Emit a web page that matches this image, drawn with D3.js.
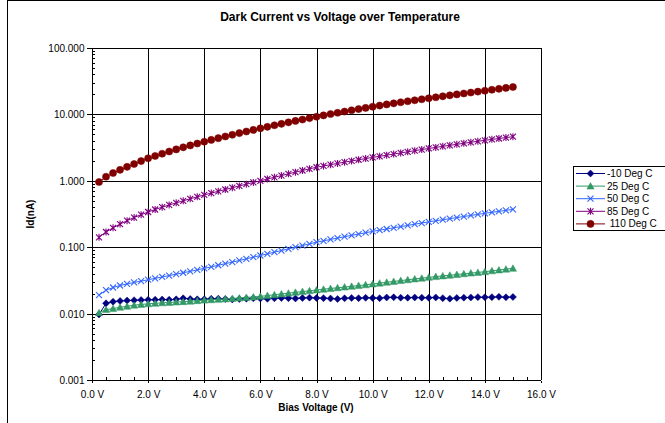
<!DOCTYPE html>
<html><head><meta charset="utf-8">
<script src="https://cdn.jsdelivr.net/npm/d3@7"></script>
<style>
body{margin:0;background:#fff}
svg{display:block}
text{font-family:Arial,"Liberation Sans",sans-serif;fill:#000}
</style>
</head><body>
<svg id="c" width="665" height="423"></svg>
<script>
const voltage = [0.25,0.5,0.75,1,1.25,1.5,1.75,2,2.25,2.5,2.75,3,3.25,3.5,3.75,4,4.25,4.5,4.75,5,5.25,5.5,5.75,6,6.25,6.5,6.75,7,7.25,7.5,7.75,8,8.25,8.5,8.75,9,9.25,9.5,9.75,10,10.25,10.5,10.75,11,11.25,11.5,11.75,12,12.25,12.5,12.75,13,13.25,13.5,13.75,14,14.25,14.5,14.75,15];
const seriesNames = ["-10 Deg C","25 Deg C","50 Deg C","85 Deg C"," 110 Deg C"];
const idM10 = [0.0097,0.0143,0.0151,0.0155,0.0157,0.0159,0.0160,0.0161,0.0162,0.0163,0.0162,0.0164,0.0170,0.0166,0.0164,0.0165,0.0167,0.0168,0.0166,0.0163,0.0166,0.0168,0.0170,0.0169,0.0167,0.0170,0.0172,0.0171,0.0169,0.0172,0.0174,0.0172,0.0171,0.0169,0.0166,0.0170,0.0172,0.0171,0.0173,0.0172,0.0171,0.0175,0.0176,0.0174,0.0173,0.0175,0.0174,0.0173,0.0175,0.0171,0.0168,0.0172,0.0174,0.0175,0.0177,0.0176,0.0177,0.0179,0.0176,0.0178];
const id25 = [0.01033,0.01148,0.01189,0.01245,0.01288,0.01340,0.01374,0.01406,0.01429,0.01452,0.01472,0.01493,0.01514,0.01535,0.01567,0.01596,0.01618,0.01641,0.01663,0.01690,0.01718,0.01750,0.01782,0.01820,0.01871,0.01923,0.01977,0.02032,0.02089,0.02148,0.02208,0.02265,0.02328,0.02388,0.02449,0.02512,0.02576,0.02642,0.02716,0.02793,0.02877,0.02965,0.03048,0.03141,0.03228,0.03327,0.03420,0.03516,0.03606,0.03698,0.03784,0.03882,0.03972,0.04074,0.04169,0.04276,0.04406,0.04539,0.04667,0.04808];
const id50 = [0.01905,0.02249,0.02472,0.02649,0.02799,0.02944,0.03083,0.03236,0.03396,0.03565,0.03741,0.03926,0.04121,0.04335,0.04560,0.04797,0.05058,0.05346,0.05649,0.05970,0.06310,0.06683,0.07079,0.07499,0.07943,0.08414,0.08913,0.09441,0.1000,0.1059,0.1122,0.1189,0.1247,0.1309,0.1374,0.1439,0.1507,0.1578,0.1652,0.1730,0.1803,0.1879,0.1959,0.2042,0.2128,0.2218,0.2312,0.2410,0.2500,0.2594,0.2692,0.2793,0.2897,0.3006,0.3119,0.3236,0.3350,0.3467,0.3589,0.3715];
const id85 = [0.1409,0.1694,0.1959,0.2228,0.2512,0.2799,0.3090,0.3388,0.3698,0.4009,0.4325,0.4656,0.5000,0.5358,0.5728,0.6124,0.6531,0.6950,0.7396,0.7870,0.8375,0.8892,0.9441,1.000,1.064,1.130,1.199,1.274,1.349,1.429,1.514,1.600,1.675,1.750,1.828,1.910,1.991,2.075,2.163,2.249,2.339,2.432,2.529,2.630,2.735,2.844,2.958,3.069,3.184,3.304,3.420,3.540,3.673,3.802,3.936,4.074,4.207,4.335,4.477,4.613];
const id110 = [0.959,1.153,1.309,1.462,1.622,1.791,1.982,2.183,2.366,2.559,2.761,2.972,3.192,3.412,3.639,3.881,4.130,4.385,4.656,4.932,5.224,5.521,5.834,6.166,6.501,6.855,7.211,7.586,7.980,8.375,8.790,9.226,9.661,10.12,10.57,11.04,11.53,12.02,12.53,13.06,13.58,14.13,14.66,15.21,15.78,16.33,16.90,17.50,18.11,18.71,19.36,20.00,20.65,21.33,22.03,22.75,23.50,24.27,25.06,25.88];
const xTickValues = [0,2,4,6,8,10,12,14,16];
const yTickValues = [0.001,0.01,0.1,1,10,100];

const colors = ["#000080","#339966","#3366FF","#800080","#800000"];
const shapes = ["diamond","triangle","cross","asterisk","circle"];
const allSeries = [idM10,id25,id50,id85,id110];

const svg = d3.select("#c");
const L = 92, R = 541, T = 48, B = 380;
const x = d3.scaleLinear().domain([0,16]).range([L,R]);
const y = d3.scaleLog().domain([0.001,100]).range([B,T]);
const FONT = "Arial, 'Liberation Sans', sans-serif";

// outer chart border
svg.append("rect").attr("x",7.5).attr("y",0.5).attr("width",700).attr("height",500)
  .attr("fill","none").attr("stroke","#000").attr("stroke-width",1);

// title
svg.append("text").attr("x",340).attr("y",21).attr("text-anchor","middle")
  .attr("font-size","12px").attr("font-weight","bold")
  .text("Dark Current vs Voltage over Temperature");

// grid
const g = svg.append("g").attr("shape-rendering","crispEdges");
g.selectAll(".vg").data(xTickValues.slice(1)).join("line")
  .attr("x1",d=>Math.round(x(d))+0.5).attr("x2",d=>Math.round(x(d))+0.5)
  .attr("y1",T).attr("y2",B).attr("stroke","#000");
g.selectAll(".hg").data(yTickValues.slice(1)).join("line")
  .attr("x1",L).attr("x2",R+0.5)
  .attr("y1",d=>Math.round(y(d))+0.5).attr("y2",d=>Math.round(y(d))+0.5).attr("stroke","#000");

// minor y ticks (inside)
const minorY = [];
yTickValues.slice(0,-1).forEach(d=>{ for(let k=2;k<10;k++) minorY.push(d*k); });
g.selectAll(".my").data(minorY).join("line")
  .attr("x1",L).attr("x2",L+3)
  .attr("y1",d=>Math.round(y(d))+0.5).attr("y2",d=>Math.round(y(d))+0.5).attr("stroke","#000");
// minor x ticks (inside)
const minorX = d3.range(0.5,16,0.5).filter(d=>d%2!==0);
g.selectAll(".mx").data(minorX).join("line")
  .attr("x1",d=>Math.round(x(d))+0.5).attr("x2",d=>Math.round(x(d))+0.5)
  .attr("y1",B).attr("y2",B-3).attr("stroke","#000");

// axes
const yAxis = d3.axisLeft(y).tickValues(yTickValues).tickFormat(d3.format(".3f")).tickSize(6).tickPadding(2);
const ya = svg.append("g").attr("transform",`translate(${L+0.5},0)`).call(yAxis);
const xAxis = d3.axisBottom(x).tickValues(xTickValues).tickFormat(d=>d3.format(".1f")(d)+" V").tickSize(2).tickPadding(8);
const xa = svg.append("g").attr("transform",`translate(0,${B+0.5})`).call(xAxis);
[ya,xa].forEach(a=>{
  a.attr("shape-rendering","crispEdges");
  a.select(".domain").attr("stroke","#000").attr("stroke-width",1.5);
  a.selectAll(".tick line").attr("stroke","#000");
  a.selectAll("text").attr("font-family",FONT).attr("font-size","10px").attr("fill","#000");
});
ya.selectAll("text").attr("dy","0.35em");
xa.select(".domain").attr("d",`M${L},0H${R}`);
ya.select(".domain").attr("d",`M0,${B}V${T}`);

// axis titles
svg.append("text").attr("x",316).attr("y",411).attr("text-anchor","middle")
  .attr("font-size","10px").attr("font-weight","bold").text("Bias Voltage (V)");
svg.append("text").attr("transform","translate(34,214) rotate(-90)").attr("text-anchor","middle")
  .attr("font-size","10px").attr("font-weight","bold").text("Id(nA)");

function markerPath(shape){
  switch(shape){
    case "diamond": return "M0,-3.5L3.5,0L0,3.5L-3.5,0Z";
    case "triangle": return "M0,-3.5L3.6,3L-3.6,3Z";
    case "cross": return "M-3,-3L3,3M-3,3L3,-3";
    case "asterisk": return "M-3,-3L3,3M-3,3L3,-3M0,-3.5L0,3.5";
    case "circle": return d3.symbol(d3.symbolCircle, 40)();
  }
}
function drawMarker(sel, i){
  const s = shapes[i];
  const filled = (s==="diamond"||s==="triangle"||s==="circle");
  sel.append("path").attr("d",markerPath(s))
    .attr("fill",filled?colors[i]:"none")
    .attr("stroke",colors[i]).attr("stroke-width",filled?0.5:1.1);
}

const line = d3.line().x(d=>x(d[0])).y(d=>y(d[1]));
allSeries.forEach((vals,i)=>{
  const pts = voltage.map((v,j)=>[v,vals[j]]);
  const sg = svg.append("g");
  sg.append("path").attr("d",line(pts)).attr("fill","none").attr("stroke",colors[i]).attr("stroke-width",1);
  sg.selectAll("g").data(pts).join("g")
    .attr("transform",d=>`translate(${x(d[0])},${y(d[1])})`)
    .each(function(){ drawMarker(d3.select(this), i); });
});

// legend
const lg = svg.append("g");
lg.append("rect").attr("x",573.5).attr("y",166.5).attr("width",100).attr("height",64)
  .attr("fill","#fff").attr("stroke","#000").attr("shape-rendering","crispEdges");
seriesNames.forEach((n,i)=>{
  const yy = 173.5 + i*12.6;
  lg.append("line").attr("x1",576).attr("x2",605).attr("y1",yy).attr("y2",yy).attr("stroke",colors[i]);
  const m = lg.append("g").attr("transform",`translate(590.5,${yy})`);
  drawMarker(m,i);
  lg.append("text").attr("x",607).attr("y",yy).attr("dy","0.35em").attr("font-size","10px")
    .style("white-space","pre").text(n);
});
</script>
</body></html>
